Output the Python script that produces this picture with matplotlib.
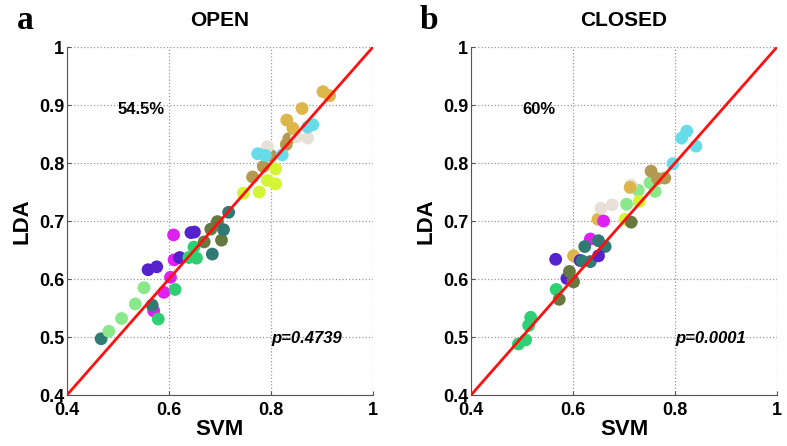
import matplotlib.pyplot as plt
from matplotlib import font_manager
import numpy as np

plt.rcParams['font.family'] = ['Liberation Sans', 'DejaVu Sans']

# narrow face for ticks and annotations if it is installed
names = {f.name for f in font_manager.fontManager.ttflist}
narrow = 'Liberation Sans Narrow' if 'Liberation Sans Narrow' in names else 'Liberation Sans'

# colours used for the groups
c_teal = '#2f7a74'
c_lgreen = '#88e88a'
c_green = '#2fcf74'
c_mag = '#e020f0'
c_purple = '#5522cc'
c_olive = '#667a40'
c_ygreen = '#d4f532'
c_brown = '#b39a50'
c_beige = '#e6e0d6'
c_cyan = '#66dcea'
c_gold = '#ddb64a'

# OPEN panel
open_svm = [0.467, 0.482, 0.507, 0.534, 0.551, 0.570, 0.567, 0.579,
            0.590, 0.603, 0.610, 0.609, 0.559, 0.576, 0.643, 0.650, 0.621,
            0.612, 0.639, 0.654, 0.649,
            0.669, 0.682, 0.695, 0.703, 0.685, 0.707, 0.717,
            0.746, 0.777, 0.793, 0.809, 0.809,
            0.764, 0.785, 0.800, 0.830, 0.835,
            0.793, 0.872, 0.850,
            0.774, 0.789, 0.822, 0.872, 0.882,
            0.831, 0.843, 0.861, 0.902, 0.915]
open_lda = [0.497, 0.510, 0.532, 0.557, 0.585, 0.545, 0.555, 0.531,
            0.577, 0.603, 0.633, 0.676, 0.616, 0.621, 0.680, 0.681, 0.637,
            0.582, 0.637, 0.636, 0.655,
            0.664, 0.686, 0.699, 0.667, 0.643, 0.685, 0.715,
            0.748, 0.750, 0.770, 0.764, 0.790,
            0.776, 0.794, 0.813, 0.832, 0.842,
            0.828, 0.843, 0.845,
            0.816, 0.813, 0.814, 0.862, 0.866,
            0.874, 0.860, 0.894, 0.923, 0.916]
open_col = [c_teal, c_lgreen, c_lgreen, c_lgreen, c_lgreen, c_mag, c_teal, c_green,
            c_mag, c_mag, c_mag, c_mag, c_purple, c_purple, c_purple, c_purple, c_purple,
            c_green, c_green, c_green, c_green,
            c_olive, c_olive, c_olive, c_olive, c_teal, c_teal, c_teal,
            c_ygreen, c_ygreen, c_ygreen, c_ygreen, c_ygreen,
            c_brown, c_brown, c_brown, c_brown, c_brown,
            c_beige, c_beige, c_beige,
            c_cyan, c_cyan, c_cyan, c_cyan, c_cyan,
            c_gold, c_gold, c_gold, c_gold, c_gold]

# CLOSED panel
closed_svm = [0.493, 0.507, 0.513, 0.517, 0.567, 0.573, 0.566, 0.588,
              0.600, 0.593, 0.601, 0.601, 0.614, 0.634,
              0.623, 0.618, 0.634, 0.650, 0.663, 0.650,
              0.649, 0.660, 0.655, 0.677,
              0.705, 0.728, 0.751, 0.761, 0.702, 0.730, 0.714,
              0.714, 0.712, 0.753, 0.766, 0.780,
              0.796, 0.823, 0.813, 0.841]
closed_lda = [0.488, 0.495, 0.520, 0.534, 0.582, 0.565, 0.634, 0.601,
              0.597, 0.613, 0.595, 0.640, 0.632, 0.669,
              0.656, 0.631, 0.630, 0.666, 0.656, 0.640,
              0.703, 0.700, 0.722, 0.728,
              0.729, 0.753, 0.766, 0.751, 0.703, 0.734, 0.698,
              0.762, 0.758, 0.786, 0.773, 0.774,
              0.799, 0.855, 0.843, 0.829]
closed_col = [c_green, c_green, c_green, c_green, c_green, c_olive, c_purple, c_purple,
              c_mag, c_olive, c_olive, c_gold, c_purple, c_mag,
              c_teal, c_teal, c_teal, c_teal, c_teal, c_purple,
              c_gold, c_mag, c_beige, c_beige,
              c_lgreen, c_lgreen, c_lgreen, c_lgreen, c_ygreen, c_ygreen, c_olive,
              c_beige, c_gold, c_brown, c_brown, c_brown,
              c_cyan, c_cyan, c_cyan, c_cyan]

titles = ['OPEN', 'CLOSED']
letters = ['a', 'b']
pct = ['54.5%', '60%']
pvals = ['p=0.4739', 'p=0.0001']
ticks = [0.4, 0.5, 0.6, 0.7, 0.8, 0.9, 1.0]
tick_labels = ['0.4', '0.5', '0.6', '0.7', '0.8', '0.9', '1']
xticks = [0.4, 0.6, 0.8, 1.0]
xtick_labels = ['0.4', '0.6', '0.8', '1']

fig = plt.figure(figsize=(7.87, 4.46), dpi=100)
lefts = [0.0851, 0.5985]
panels = [(open_svm, open_lda, open_col), (closed_svm, closed_lda, closed_col)]

for i, (sx, ly, cols) in enumerate(panels):
    ax = fig.add_axes([lefts[i], 0.1143, 0.3888, 0.7803])
    ax.scatter(sx, ly, s=85, c=cols, edgecolors='none', zorder=3)
    ax.plot([0.4, 1], [0.4, 1], color='#ff1010', lw=2, zorder=4)
    ax.set_xlim(0.4, 1)
    ax.set_ylim(0.4, 1)
    ax.set_xticks(xticks)
    ax.set_xticklabels(xtick_labels, fontsize=13, fontweight='bold', family=narrow)
    ax.set_yticks(ticks)
    ax.set_yticklabels(tick_labels, fontsize=13, fontweight='bold', family=narrow)
    ax.grid(True, linestyle=':', color='#999999', lw=0.9)
    ax.set_axisbelow(True)
    for s in ['top', 'right']:
        ax.spines[s].set_visible(False)
    for s in ['left', 'bottom']:
        ax.spines[s].set_color('#555555')
    ax.tick_params(direction='in', length=3, color='#555555')
    ax.tick_params(axis='x', pad=5)
    ax.tick_params(axis='y', pad=2)
    ax.set_xlabel('SVM', fontsize=16, fontweight='bold', labelpad=0)
    ax.set_ylabel('LDA', fontsize=16, fontweight='bold', labelpad=5)
    ax.set_title(titles[i], fontsize=15, fontweight='bold', pad=15)
    ax.text(0.50, 0.893, pct[i], fontsize=12, fontweight='bold', va='center', family=narrow)
    ax.text(0.80, 0.498, pvals[i], fontsize=12, fontweight='bold', style='italic',
            va='center', family=narrow)
    fig.text(lefts[i] - 0.053, 0.953, letters[i], fontsize=24, fontweight='bold',
             family='Liberation Serif', va='center', ha='center')

fig.savefig('out.png', dpi=100)
